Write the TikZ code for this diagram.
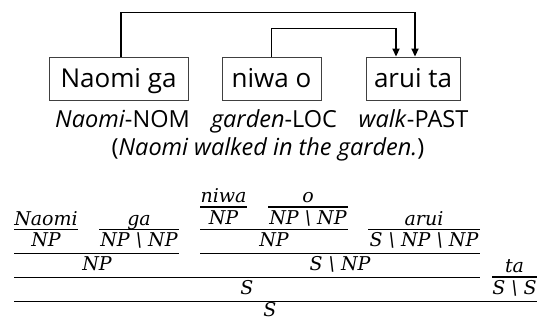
\documentclass[tikz,border=0pt]{standalone}
\usepackage{fontspec}
\setmainfont{Open Sans}
\newfontfamily\catfont{DejaVu Serif}
\usetikzlibrary{arrows.meta}
\newcommand{\bs}{\textbackslash}
\begin{document}
\begin{tikzpicture}[x=1pt,y=-1pt,
  wbox/.style={draw=black!75, line width=0.9pt, minimum height=43pt, inner sep=0pt,
    text height=19pt, text depth=0pt, font=\fontsize{26}{30}\selectfont},
  gl/.style={anchor=base, inner sep=0pt, font=\fontsize{23.5}{27}\selectfont},
  dep/.style={line width=1.8pt, -{Triangle[length=8pt,width=7pt]}},
  cat/.style={anchor=base, inner sep=0pt, font=\catfont\itshape\fontsize{19}{22}\selectfont},
  lex/.style={line width=1.8pt},
  comb/.style={line width=1pt},
]
\useasboundingbox (0,0) rectangle (537,320);

% word boxes
\node[wbox, minimum width=139pt] (naomi) at (118.5,78.5) {Naomi ga};
\node[wbox, minimum width=99pt] (niwa) at (271.5,78.5) {niwa o};
\node[wbox, minimum width=94pt] (arui) at (413,78.5) {arui ta};

% dependency arrows
\draw[dep] ([xshift=2.5pt]naomi.north) -- ++(0,-44) -| ([xshift=2pt]arui.north);
\draw[dep] (niwa.north) -- ++(0,-28) -| ([xshift=-17pt]arui.north);

% glosses
\node[gl] (g1) at (122.5,128) {\textit{Naomi}-NOM};
\node[gl] (g2) at (274,128) {\textit{garden}-LOC};
\node[gl] (g3) at (413.5,128) {\textit{walk}-PAST};
\node[gl] (tr) at (268,156) {(\textit{Naomi walked in the garden.})};

% CCG derivation
% row A: niwa, o
\node[cat] (w-niwa) at (223.5,202) {niwa};
\node[cat] (w-o) at (308,202) {o};
\draw[lex] (200,207) -- (247,207);
\draw[lex] (268,207) -- (348,207);
\node[cat] (c-niwa) at (223.5,224) {NP};
\node[cat] (c-o) at (308,224) {NP \bs{} NP};

% row B
\node[cat] (w-naomi) at (46,225) {Naomi};
\node[cat] (w-ga) at (139,225) {ga};
\node[cat] (w-arui) at (424,225) {arui};
\draw[lex] (14,229.5) -- (78,229.5);
\draw[lex] (99,229.5) -- (179,229.5);
\draw[lex] (368,229.5) -- (480,229.5);
\draw[comb] (200,229.5) -- (348,229.5);
\node[cat] (c-naomi) at (46,246) {NP};
\node[cat] (c-ga) at (139,246) {NP \bs{} NP};
\node[cat] (c-np2) at (274,246) {NP};
\node[cat] (c-arui) at (424,246) {S \bs{} NP \bs{} NP};

% row C
\draw[comb] (14,253) -- (179,253);
\draw[comb] (200,253) -- (480,253);
\node[cat] (c-np1) at (97,270) {NP};
\node[cat] (c-vp) at (340,270) {S \bs{} NP};
\node[cat] (w-ta) at (514.5,272) {ta};

% row D
\draw[comb] (14,277) -- (480,277);
\draw[lex] (492,277) -- (537,277);
\node[cat] (c-s1) at (247,294) {S};
\node[cat] (c-ta) at (514.5,294) {S \bs{} S};

% row E
\draw[comb] (14,301) -- (537,301);
\node[cat] (c-s2) at (270,316.5) {S};
\end{tikzpicture}
\end{document}
